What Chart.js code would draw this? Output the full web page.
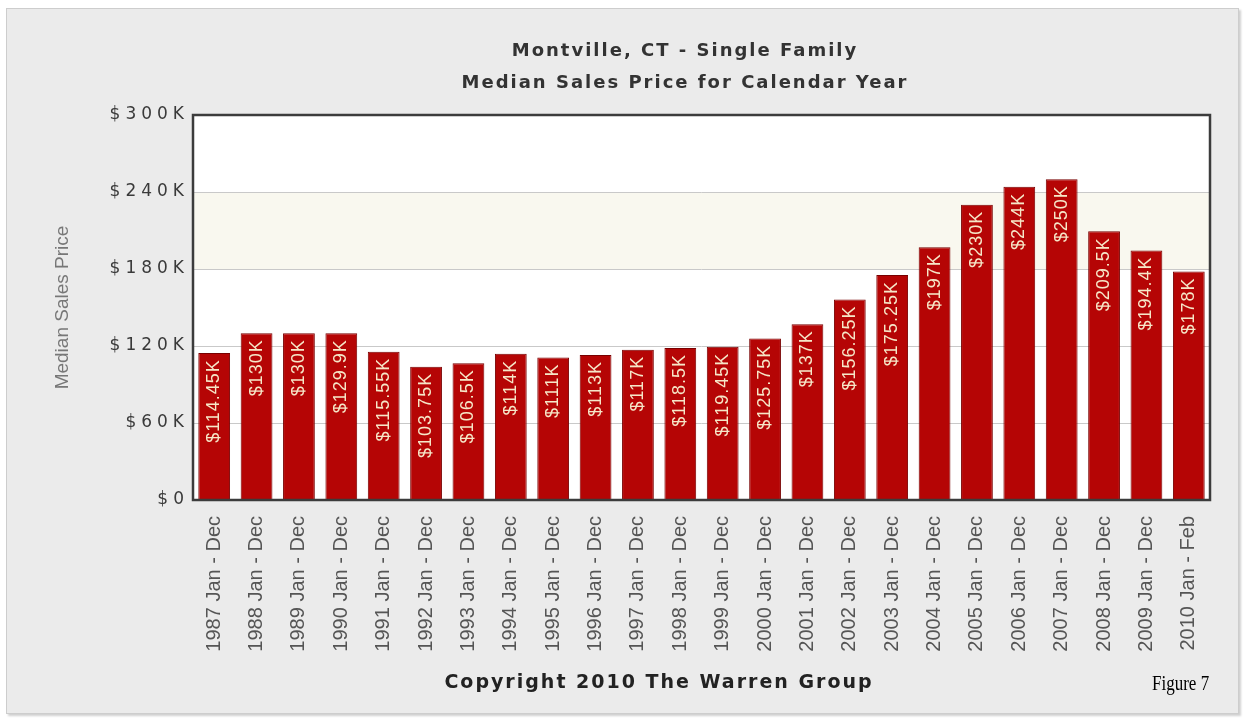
<!DOCTYPE html>
<html>
<head>
<meta charset="utf-8">
<script src="https://cdn.jsdelivr.net/npm/chart.js@4.4.1/dist/chart.umd.min.js"></script>
<style>
  body { margin: 0; background: #fff; }
  #panel {
    position: absolute; left: 6px; top: 8px; width: 1231px; height: 704px;
    background: #ebebeb; border: 1px solid #cdcdcd;
    box-shadow: 2px 2px 2px #d0d0d0;
  }
  #chart { position: absolute; left: 0; top: 0; }
  .title {
    position: absolute; left: 435px; width: 500px; text-align: center;
    font: bold 18px "DejaVu Sans", Verdana, sans-serif; color: #333;
    letter-spacing: 2px;
  }
  #copy {
    position: absolute; left: 409px; width: 500px; top: 670px; text-align: center;
    font: bold 19px "DejaVu Sans", Verdana, sans-serif; color: #222;
    letter-spacing: 2px;
  }
  #fig {
    position: absolute; left: 1152px; top: 672px; transform-origin: 0 0; transform: scaleX(0.85);
    font: 20px "Liberation Serif", "Times New Roman", serif; color: #000;
  }
</style>
</head>
<body>
<div id="panel"></div>
<canvas id="chart" width="1246" height="721"></canvas>
<div class="title" style="top:39px">Montville, CT - Single Family</div>
<div class="title" style="top:71px">Median Sales Price for Calendar Year</div>
<div id="copy">Copyright 2010 The Warren Group</div>
<div id="fig">Figure 7</div>
<script>
const periods = [
    "1987 Jan - Dec", "1988 Jan - Dec", "1989 Jan - Dec", "1990 Jan - Dec",
    "1991 Jan - Dec", "1992 Jan - Dec", "1993 Jan - Dec", "1994 Jan - Dec",
    "1995 Jan - Dec", "1996 Jan - Dec", "1997 Jan - Dec", "1998 Jan - Dec",
    "1999 Jan - Dec", "2000 Jan - Dec", "2001 Jan - Dec", "2002 Jan - Dec",
    "2003 Jan - Dec", "2004 Jan - Dec", "2005 Jan - Dec", "2006 Jan - Dec",
    "2007 Jan - Dec", "2008 Jan - Dec", "2009 Jan - Dec", "2010 Jan - Feb"
];
const medianPrice = [
    114450, 130000, 130000, 129900, 115550, 103750, 106500, 114000,
    111000, 113000, 117000, 118500, 119450, 125750, 137000, 156250,
    175250, 197000, 230000, 244000, 250000, 209500, 194400, 178000
];
const yTicks = [0, 60000, 120000, 180000, 240000, 300000];
const bandFrom = 180000, bandTo = 240000;

function money(v) {
    return v === 0 ? "$0" : "$" + (v / 1000) + "K";
}

// white plot area + faint band behind the grid, frame on top
const plotBack = {
    id: "plotBack",
    beforeDraw(chart) {
        const { ctx, chartArea: a, scales } = chart;
        ctx.save();
        ctx.fillStyle = "#ffffff";
        ctx.fillRect(a.left, a.top, a.width, a.height);
        const y1 = scales.y.getPixelForValue(bandTo);
        const y2 = scales.y.getPixelForValue(bandFrom);
        ctx.fillStyle = "#f9f8ef";
        ctx.fillRect(a.left, y1, a.width, y2 - y1);
        ctx.restore();
    },
    afterDraw(chart) {
        const { ctx, chartArea: a } = chart;
        ctx.letterSpacing = "0px";
        ctx.save();
        ctx.strokeStyle = "#3c3c3c";
        ctx.lineWidth = 2.5;
        ctx.strokeRect(a.left, a.top, a.width, a.height);
        ctx.restore();
    }
};

// vertical value labels inside the top of each bar
const barLabels = {
    id: "barLabels",
    afterDatasetsDraw(chart) {
        const ctx = chart.ctx;
        const meta = chart.getDatasetMeta(0);
        ctx.save();
        ctx.font = "18px 'Liberation Sans', Arial, sans-serif";
        ctx.letterSpacing = "1px";
        ctx.fillStyle = "#f6e7c8";
        ctx.textAlign = "right";
        ctx.textBaseline = "middle";
        meta.data.forEach((bar, i) => {
            ctx.save();
            ctx.translate(bar.x, bar.y + 6);
            ctx.rotate(-Math.PI / 2);
            ctx.fillText(money(medianPrice[i]), 0, 0);
            ctx.restore();
        });
        ctx.restore();
        // y tick labels are drawn next (z: 1), spaced out like the original
        ctx.letterSpacing = "5px";
    }
};

new Chart(document.getElementById("chart"), {
    type: "bar",
    data: {
        labels: periods,
        datasets: [{
            data: medianPrice,
            backgroundColor: "#b50505",
            borderColor: "#780000",
            borderWidth: 1,
            categoryPercentage: 1,
            barPercentage: 0.75
        }]
    },
    options: {
        responsive: false,
        devicePixelRatio: 1,
        animation: false,
        layout: { padding: { left: 40, right: 36, top: 115, bottom: 61 } },
        plugins: {
            legend: { display: false },
            tooltip: { enabled: false }
        },
        scales: {
            x: {
                grid: { display: false },
                border: { display: false },
                ticks: {
                    autoSkip: false,
                    minRotation: 90,
                    maxRotation: 90,
                    padding: 8,
                    color: "#555",
                    font: { family: "'Liberation Sans', Arial, sans-serif", size: 20 }
                },
                afterFit(scale) { scale.height = 160; }
            },
            y: {
                min: 0,
                max: 300000,
                afterBuildTicks(scale) {
                    scale.ticks = yTicks.map(v => ({ value: v }));
                },
                grid: { color: "#c9c9c9", drawTicks: false },
                border: { display: false },
                ticks: {
                    z: 1,
                    padding: 4,
                    color: "#3a3a3a",
                    font: { family: "'DejaVu Sans', Verdana, sans-serif", size: 17 },
                    callback: v => money(v)
                },
                title: {
                    display: true,
                    text: "Median Sales Price",
                    color: "#777",
                    padding: { top: 11, bottom: 0 },
                    font: { family: "'Liberation Sans', Arial, sans-serif", size: 19 }
                },
                afterFit(scale) { scale.width = 153; }
            }
        }
    },
    plugins: [plotBack, barLabels]
});
</script>
</body>
</html>
